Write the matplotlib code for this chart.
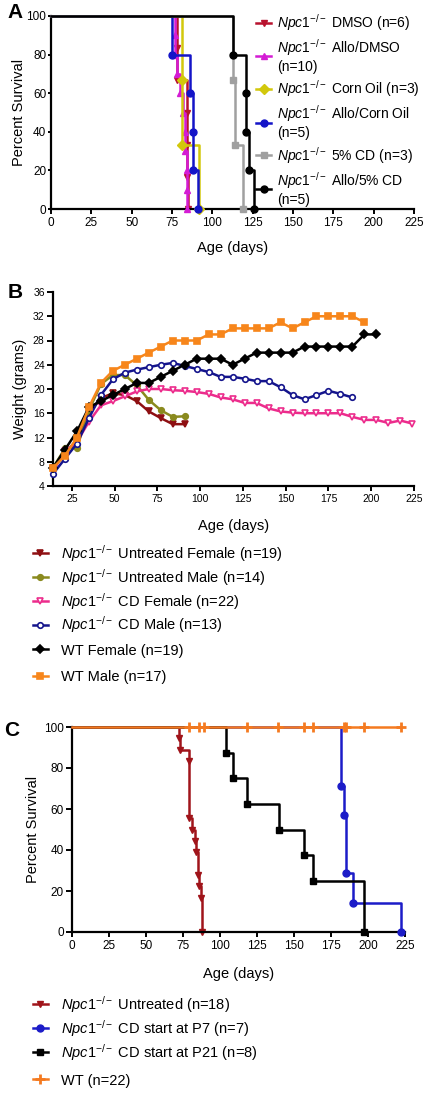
import numpy as np
import matplotlib
matplotlib.use("Agg")
import matplotlib.pyplot as plt

plt.rcParams["font.family"] = ["Liberation Sans", "DejaVu Sans"]
plt.rcParams["mathtext.fontset"] = "custom"
plt.rcParams["mathtext.it"] = "Liberation Sans:italic"
plt.rcParams["mathtext.rm"] = "Liberation Sans"
plt.rcParams["mathtext.sf"] = "Liberation Sans"

NPC = r"$\mathit{Npc1}^{-/-}$"

# ---------------- Panel A: survival (step points: age, percent) ----------------
a_labels = [NPC + " DMSO (n=6)", NPC + " Allo/DMSO\n(n=10)", NPC + " Corn Oil (n=3)",
            NPC + " Allo/Corn Oil\n(n=5)", NPC + " 5% CD (n=3)", NPC + " Allo/5% CD\n(n=5)"]
a_t = [
    [0, 78, 78, 84, 84, 84, 85],
    [0, 77, 77, 78, 80, 82, 83, 83, 84, 84, 84],
    [0, 81, 81, 92],
    [0, 75, 86, 88, 88, 91],
    [0, 113, 114, 119],
    [0, 113, 121, 121, 123, 126],
]
a_s = [
    [100, 83.3, 66.7, 50, 33.3, 16.7, 0],
    [100, 90, 80, 70, 60, 50, 40, 30, 20, 10, 0],
    [100, 66.7, 33.3, 0],
    [100, 80, 60, 40, 20, 0],
    [100, 66.7, 33.3, 0],
    [100, 80, 60, 40, 20, 0],
]
a_colors = ["#b8122e", "#d41cd4", "#d2c80c", "#1414c8", "#a0a0a0", "#000000"]
a_markers = ["v", "^", "D", "o", "s", "o"]

# ---------------- Panel B: body weight ----------------
b_labels = [NPC + " Untreated Female (n=19)", NPC + " Untreated Male (n=14)",
            NPC + " CD Female (n=22)", NPC + " CD Male (n=13)",
            "WT Female (n=19)", "WT Male (n=17)"]
days_untr = [14, 21, 28, 35, 42, 49, 56, 63, 70, 77, 84, 91]
untr_female = [7, 9.5, 11.5, 16, 18.5, 19.3, 19, 18, 16.3, 15.2, 14.2, 14.2]
untr_male = [7, 10.2, 10.3, 16.5, 20.8, 22.3, 22.3, 20.6, 18.2, 16.5, 15.4, 15.5]
days_cdf = [14, 21, 28, 35, 42, 49, 56, 63, 70, 77, 84, 91, 98, 105, 112, 119, 126,
            133, 140, 147, 154, 161, 168, 175, 182, 189, 196, 203, 210, 217, 224]
cd_female = [6.5, 9.7, 11.3, 14.6, 17.3, 18, 18.8, 19.6, 20, 20, 19.8, 19.7, 19.5, 19.2,
             18.6, 18.3, 17.7, 17.7, 16.8, 16.3, 16.1, 16, 16, 16, 16, 15.4, 14.9, 14.9,
             14.4, 14.8, 14.3]
days_cdm = [14, 21, 28, 35, 42, 49, 56, 63, 70, 77, 84, 91, 98, 105, 112, 119, 126,
            133, 140, 147, 154, 161, 168, 175, 182, 189]
cd_male = [6, 8.5, 11, 15.2, 19, 21.6, 22.7, 23.2, 23.6, 24, 24.3, 23.8, 23.3, 22.8,
           22, 22, 21.7, 21.3, 21.3, 20.3, 19, 18.3, 19, 19.7, 19.2, 18.6]
days_wtf = [14, 21, 28, 35, 42, 49, 56, 63, 70, 77, 84, 91, 98, 105, 112, 119, 126,
            133, 140, 147, 154, 161, 168, 175, 182, 189, 196, 203]
wt_female = [7, 10, 13, 17, 18, 19, 20, 21, 21, 22, 23, 24, 25, 25, 25, 24, 25, 26, 26,
             26, 26, 27, 27, 27, 27, 27, 29, 29]
days_wtm = [14, 21, 28, 35, 42, 49, 56, 63, 70, 77, 84, 91, 98, 105, 112, 119, 126,
            133, 140, 147, 154, 161, 168, 175, 182, 189, 196]
wt_male = [7, 9, 12, 17, 21, 23, 24, 25, 26, 27, 28, 28, 28, 29, 29, 30, 30, 30, 30,
           31, 30, 31, 32, 32, 32, 32, 31]
b_days = [days_untr, days_untr, days_cdf, days_cdm, days_wtf, days_wtm]
b_vals = [untr_female, untr_male, cd_female, cd_male, wt_female, wt_male]
b_colors = ["#8e0f12", "#8a8a1e", "#ec2c8c", "#14148c", "#000000", "#f7861b"]
b_markers = ["v", "o", "v", "o", "D", "s"]
b_mfc = ["#8e0f12", "#8a8a1e", "white", "white", "#000000", "#f7861b"]

# ---------------- Panel C: survival ----------------
c_labels = [NPC + " Untreated (n=18)", NPC + " CD start at P7 (n=7)",
            NPC + " CD start at P21 (n=8)", "WT (n=22)"]
c_t = [
    [0, 72, 73, 79, 79, 81, 83, 84, 85, 86, 87, 88],
    [0, 182, 184, 185, 190, 222],
    [0, 104, 109, 118, 140, 157, 163, 197],
]
c_s = [
    [100, 94.4, 88.9, 83.3, 55.6, 50, 44.4, 38.9, 27.8, 22.2, 16.7, 0],
    [100, 71.4, 57.1, 28.6, 14.3, 0],
    [100, 87.5, 75, 62.5, 50, 37.5, 25, 0],
]
wt_censor = [79, 86, 89, 118, 139, 157, 163, 184, 185, 197, 222]
c_colors = ["#a0141a", "#1c1cc8", "#000000", "#f47a20"]
c_markers = ["v", "o", "s", "+"]

W, H = 428, 1093
fig = plt.figure(figsize=(W / 100, H / 100), dpi=100)


def rect(l, t, r, b):
    return [l / W, 1 - b / H, (r - l) / W, (b - t) / H]


def style(ax, fs=8.5, ylen=4, ypad=2):
    for s in ["top", "right"]:
        ax.spines[s].set_visible(False)
    for s in ["left", "bottom"]:
        ax.spines[s].set_linewidth(1.6)
    ax.tick_params(direction="out", width=1.4, labelsize=fs)
    ax.tick_params(axis="x", length=3.5, pad=2)
    ax.tick_params(axis="y", length=ylen, pad=ypad)


def legend_at(hs, labels, x, top, spacing):
    # figure-level legend so each one is drawn exactly once
    return fig.legend(hs, labels, loc="upper left", bbox_to_anchor=(x / W, 1 - top / H),
                      bbox_transform=fig.transFigure, frameon=False, fontsize=10.5,
                      handlelength=1.0, handletextpad=0.95, labelspacing=spacing,
                      borderpad=0, borderaxespad=0)


# ---- A ----
axA = fig.add_axes(rect(51, 16, 414, 209))
handles = []
for i in range(6):
    axA.step(a_t[i], a_s[i], where="post", color=a_colors[i], lw=1.8, zorder=2 + i,
             clip_on=False)
    axA.plot(a_t[i][1:], a_s[i][1:], ls="none", marker=a_markers[i], ms=5,
             color=a_colors[i], zorder=2 + i, clip_on=False)
    h, = axA.plot([], [], color=a_colors[i], marker=a_markers[i], ms=5, lw=1.8)
    handles.append(h)
axA.set_xlim(0, 225)
axA.set_ylim(0, 100)
axA.set_xticks(np.arange(0, 226, 25))
axA.set_yticks(np.arange(0, 101, 20))
style(axA, ylen=2.5, ypad=1)
axA.set_ylabel("Percent Survival", fontsize=10.5, labelpad=0)
axA.set_xlabel("Age (days)", fontsize=10.5, labelpad=9)
axA.legend(handles, a_labels, loc="upper left", bbox_to_anchor=(256 / W, 1 - 12 / H),
           bbox_transform=fig.transFigure, frameon=False, fontsize=10,
           handlelength=1.1, handletextpad=0.4, labelspacing=0.3, borderpad=0,
           borderaxespad=0)
fig.text(15 / W, 1 - 13 / H, "A", fontsize=15, fontweight="bold", ha="center", va="center")

# ---- B ----
axB = fig.add_axes(rect(53, 292, 414, 486))
handles = []
for i in range(6):
    h, = axB.plot(b_days[i], b_vals[i], color=b_colors[i], lw=1.8, marker=b_markers[i],
                  ms=4, mfc=b_mfc[i], mec=b_colors[i], mew=1.2, zorder=2 + i,
                  clip_on=False)
    handles.append(h)
axB.set_xlim(14, 225)
axB.set_ylim(4, 36)
axB.set_xticks(np.arange(25, 226, 25))
axB.set_yticks(np.arange(4, 37, 4))
style(axB, fs=7.5)
axB.set_ylabel("Weight (grams)", fontsize=10.5, labelpad=4)
axB.set_xlabel("Age (days)", fontsize=10.5, labelpad=11)
legend_at(handles[:4], b_labels[:4], 33, 543, 0.2)
legend_at(handles[4:], b_labels[4:], 33, 643.5, 0.85)
fig.text(15 / W, 1 - 293 / H, "B", fontsize=15, fontweight="bold", ha="center", va="center")

# ---- C ----
axC = fig.add_axes(rect(72, 727, 405, 932))
handles = []
for i in range(3):
    axC.step(c_t[i], c_s[i], where="post", color=c_colors[i], lw=1.8, zorder=2 + i,
             clip_on=False)
    axC.plot(c_t[i][1:], c_s[i][1:], ls="none", marker=c_markers[i], ms=5,
             color=c_colors[i], zorder=2 + i, clip_on=False)
    h, = axC.plot([], [], color=c_colors[i], marker=c_markers[i], ms=5, lw=1.8)
    handles.append(h)
axC.plot([0, wt_censor[-1]], [100, 100], color=c_colors[3], lw=1.8, zorder=6, clip_on=False)
axC.plot(wt_censor, [100] * len(wt_censor), ls="none", marker="+", ms=7, mew=2,
         color=c_colors[3], zorder=6, clip_on=False)
h, = axC.plot([], [], color=c_colors[3], marker="+", ms=7, mew=2, lw=1.8)
handles.append(h)
axC.set_xlim(0, 225)
axC.set_ylim(0, 100)
axC.set_xticks(np.arange(0, 226, 25))
axC.set_yticks(np.arange(0, 101, 20))
style(axC)
axC.set_ylabel("Percent Survival", fontsize=10.5, labelpad=3)
axC.set_xlabel("Age (days)", fontsize=10.5, labelpad=11)
legend_at(handles[:3], c_labels[:3], 33, 994, 0.2)
legend_at(handles[3:], c_labels[3:], 33, 1073.5, 0.75)
fig.text(12 / W, 1 - 730 / H, "C", fontsize=15, fontweight="bold", ha="center", va="center")

fig.savefig("out.png", dpi=100)
